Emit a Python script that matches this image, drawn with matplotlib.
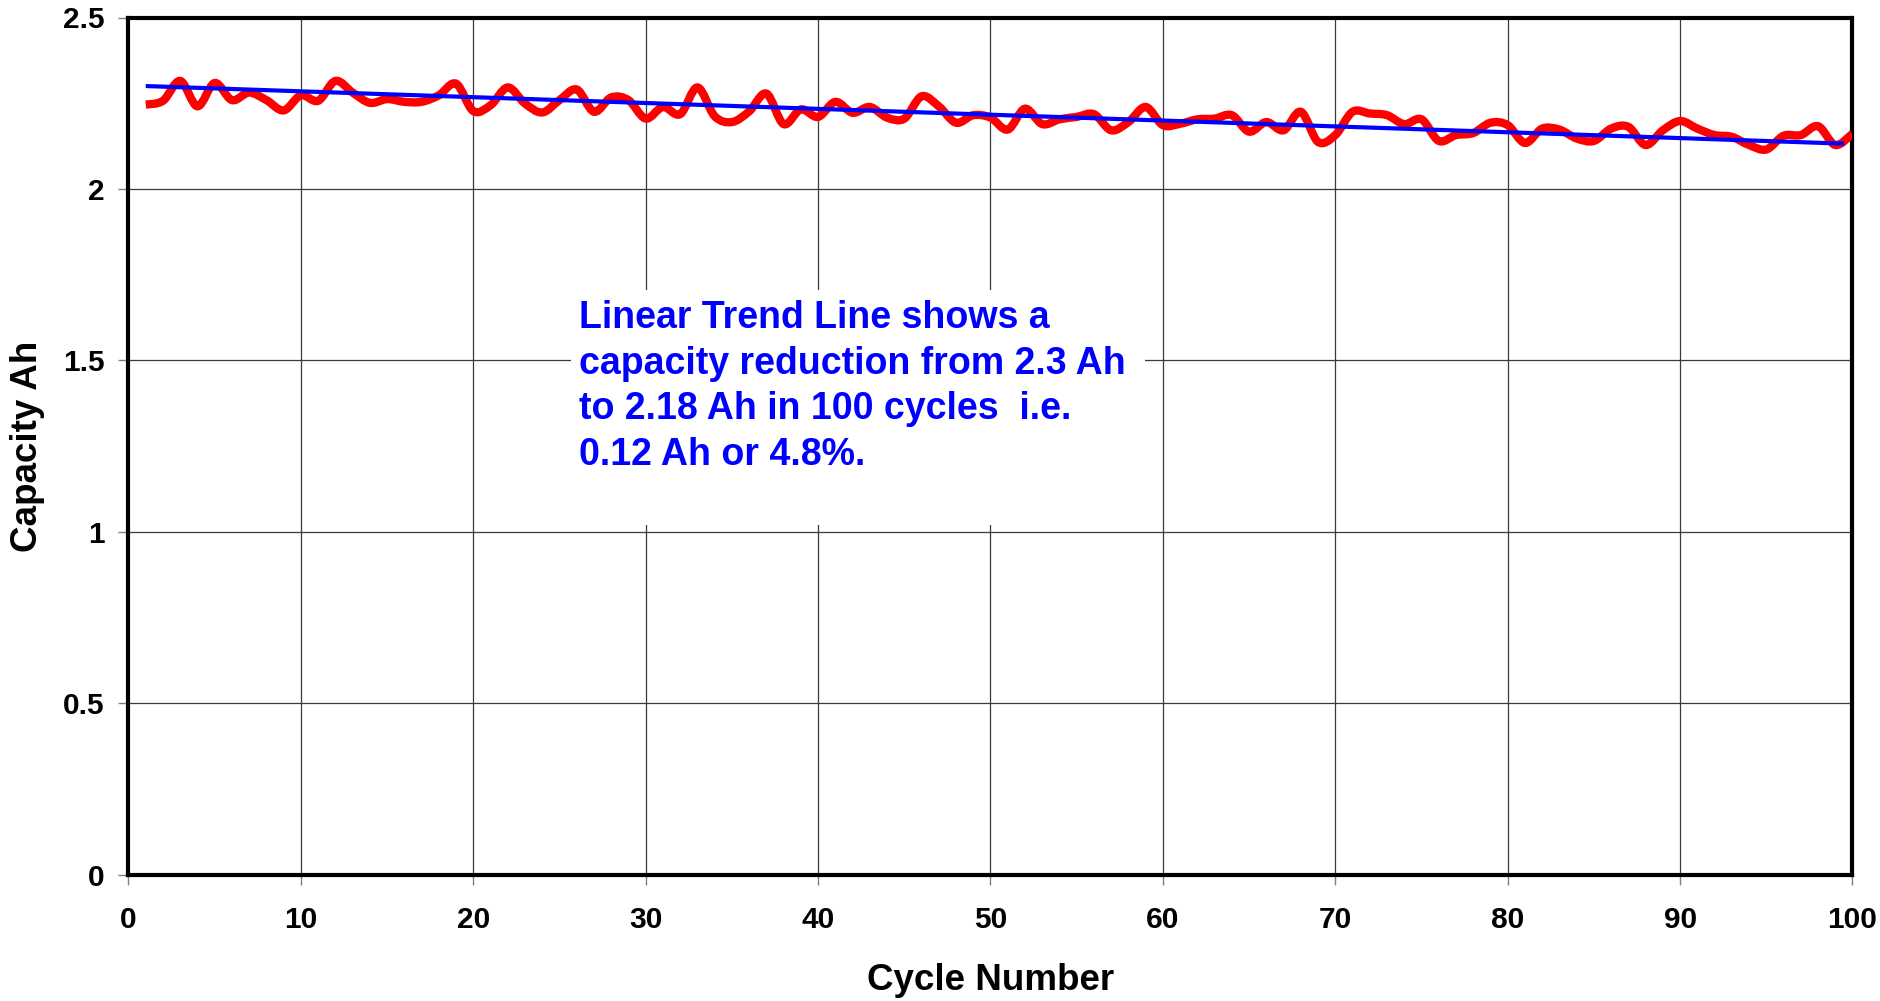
import matplotlib
matplotlib.use("Agg")
import matplotlib.pyplot as plt
from matplotlib.patches import Rectangle, PathPatch
from matplotlib.path import Path

plt.rcParams['font.family'] = ['Liberation Sans', 'DejaVu Sans']
plt.rcParams['font.weight'] = 'bold'

# ---- data ----
cycles = list(range(1, 101))
capacity = [
    2.246, 2.257, 2.315, 2.241, 2.309, 2.259, 2.281, 2.259, 2.229, 2.273,
    2.257, 2.315, 2.281, 2.251, 2.262, 2.254, 2.254, 2.273, 2.307, 2.227,
    2.244, 2.296, 2.249, 2.223, 2.259, 2.290, 2.225, 2.267, 2.259, 2.205,
    2.239, 2.218, 2.296, 2.212, 2.195, 2.226, 2.278, 2.189, 2.232, 2.210,
    2.254, 2.222, 2.239, 2.208, 2.205, 2.270, 2.241, 2.193, 2.215, 2.208,
    2.173, 2.234, 2.189, 2.203, 2.210, 2.218, 2.171, 2.195, 2.239, 2.186,
    2.190, 2.203, 2.205, 2.215, 2.167, 2.195, 2.171, 2.225, 2.137, 2.157,
    2.225, 2.220, 2.215, 2.189, 2.203, 2.140, 2.157, 2.163, 2.193, 2.186,
    2.134, 2.176, 2.173, 2.147, 2.140, 2.176, 2.181, 2.128, 2.171, 2.198,
    2.176, 2.157, 2.152, 2.128, 2.115, 2.155, 2.157, 2.183, 2.128, 2.161,
]
trend_x = [1, 99.5]
trend_y = [2.300, 2.132]

x_ticks = [0, 10, 20, 30, 40, 50, 60, 70, 80, 90, 100]
y_ticks = [0, 0.5, 1, 1.5, 2, 2.5]
y_tick_labels = ['0', '0.5', '1', '1.5', '2', '2.5']

note = ("Linear Trend Line shows a\n"
        "capacity reduction from 2.3 Ah\n"
        "to 2.18 Ah in 100 cycles  i.e.\n"
        "0.12 Ah or 4.8%.")


def smooth_path(xs, ys):
    """Excel-style smoothed line: cubic Bezier segments through the data points."""
    pts = list(zip(xs, ys))
    n = len(pts)
    verts = [pts[0]]
    codes = [Path.MOVETO]
    for i in range(n - 1):
        p0 = pts[i - 1] if i > 0 else pts[i]
        p1 = pts[i]
        p2 = pts[i + 1]
        p3 = pts[i + 2] if i + 2 < n else pts[i + 1]
        c1 = (p1[0] + (p2[0] - p0[0]) / 6.0, p1[1] + (p2[1] - p0[1]) / 6.0)
        c2 = (p2[0] - (p3[0] - p1[0]) / 6.0, p2[1] - (p3[1] - p1[1]) / 6.0)
        verts += [c1, c2, p2]
        codes += [Path.CURVE4] * 3
    return Path(verts, codes)


W, H = 1881, 1001
fig = plt.figure(figsize=(W / 100, H / 100), dpi=100)
L, R, T, B = 128.5, 1852.5, 17.5, 874.5
ax = fig.add_axes([L / W, (H - B) / H, (R - L) / W, (B - T) / H])

ax.add_patch(PathPatch(smooth_path(cycles, capacity), facecolor='none',
                       edgecolor='#FF0000', lw=6, joinstyle='round',
                       capstyle='butt', zorder=3))
ax.plot(trend_x, trend_y, color='#0000FF', lw=3, solid_capstyle='butt', zorder=4)

ax.set_xlim(0, 100)
ax.set_ylim(0, 2.5)
ax.set_xticks(x_ticks)
ax.set_xticklabels([str(v) for v in x_ticks])
ax.set_yticks(y_ticks)
ax.set_yticklabels(y_tick_labels)

ax.set_axisbelow(True)
ax.grid(True, color='#3a3a3a', lw=0.9)

for s in ax.spines.values():
    s.set_linewidth(3.0)
    s.set_color('black')

ax.tick_params(axis='both', direction='out', length=7, width=1, color='#808080',
               labelsize=21.5)
ax.tick_params(axis='y', pad=10)
ax.tick_params(axis='x', pad=16)
for lab in ax.get_xticklabels() + ax.get_yticklabels():
    lab.set_fontweight('bold')

# white box behind annotation
ax.add_patch(Rectangle((0.2567, 0.4078), 0.5896 - 0.2567, 0.682 - 0.4078,
                       transform=ax.transAxes, facecolor='white',
                       edgecolor='none', zorder=1))
ax.text((579.5 - L) / (R - L), (B - 300) / (B - T), note, transform=ax.transAxes,
        ha='left', va='top', color='#0000FF', fontsize=27, fontweight='bold',
        linespacing=1.34, zorder=5)

ax.set_xlabel('Cycle Number', fontsize=26.5, fontweight='bold')
ax.set_ylabel('Capacity Ah', fontsize=26.5, fontweight='bold')
ax.xaxis.set_label_coords(0.5, (B - 963) / (B - T))
ax.yaxis.set_label_coords((45 - L) / (R - L), 0.5)

fig.savefig('out.png', dpi=100, facecolor='white')
